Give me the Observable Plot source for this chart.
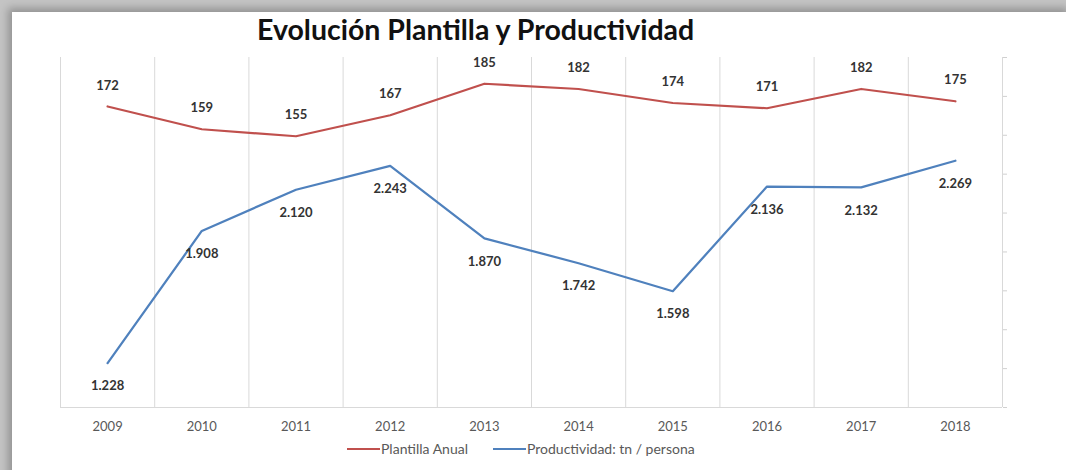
<!DOCTYPE html>
<html>
<head>
<meta charset="utf-8">
<script src="https://cdn.jsdelivr.net/npm/d3@7"></script>
<script src="https://cdn.jsdelivr.net/npm/@observablehq/plot@0.6"></script>
<style>
  html, body { margin: 0; padding: 0; }
  body { width: 1066px; height: 470px; overflow: hidden; background: #c4c4c4; font-family: Lato, "Open Sans", sans-serif; }
  #wrap { position: relative; width: 1066px; height: 470px; }
  #card { position: absolute; left: 12px; top: 12px; width: 1060px; height: 470px; background: #fff; box-shadow: -4px -4px 8px rgba(0,0,0,0.25); }
  #title { position: absolute; left: 257px; top: 12px; white-space: nowrap; font: bold 28.5px Lato, sans-serif; color: #111; }
  #chart { position: absolute; left: 0; top: 48px; }
  #legend { position: absolute; left: 347px; top: 440px; display: flex; align-items: center; font: 14px Lato, sans-serif; color: #595959; }
  .sw { display: inline-block; width: 33px; height: 2px; margin-right: 1px; }
  .item { display: flex; align-items: center; margin-right: 25px; }
</style>
</head>
<body>
<div id="wrap">
  <div id="card"></div>
  <div id="title">Evolución Plantilla y Productividad</div>
  <div id="chart"></div>
  <div id="legend">
    <div class="item"><span class="sw" style="background:#C0504D"></span>Plantilla Anual</div>
    <div class="item"><span class="sw" style="background:#4F81BD"></span>Productividad: tn / persona</div>
  </div>
</div>
<script>
const years = [2009, 2010, 2011, 2012, 2013, 2014, 2015, 2016, 2017, 2018];
const plantilla = [172, 159, 155, 167, 185, 182, 174, 171, 182, 175];
const productividad = [1.228, 1.908, 2.120, 2.243, 1.870, 1.742, 1.598, 2.136, 2.132, 2.269];
const productividadLabels = ["1.228", "1.908", "2.120", "2.243", "1.870", "1.742", "1.598", "2.136", "2.132", "2.269"];
const rightTicks = [1.0, 1.2, 1.4, 1.6, 1.8, 2.0, 2.2, 2.4, 2.6, 2.8];

// secondary axis mapping: productividad [1.0, 2.8] onto plantilla [0, 200]
const pMin = 1.0, pMax = 2.8, yMax = 200;
const toY = v => (v - pMin) / (pMax - pMin) * yMax;

const red = years.map((y, i) => ({year: y, v: plantilla[i], label: String(plantilla[i])}));
const blue = years.map((y, i) => ({year: y, v: toY(productividad[i]), label: productividadLabels[i]}));
const bounds = [years[0] - 0.5, ...years.map(y => y + 0.5)];

const chart = Plot.plot({
  width: 1066,
  height: 400,
  marginLeft: 60,
  marginRight: 64,
  marginTop: 9,
  marginBottom: 41,
  style: {fontFamily: "Lato, sans-serif", background: "transparent", overflow: "visible"},
  x: {type: "linear", domain: [years[0] - 0.5, years[years.length - 1] + 0.5], label: null},
  y: {domain: [0, yMax], axis: null, label: null},
  marks: [
    Plot.ruleX(bounds, {stroke: "#d9d9d9", strokeWidth: 1}),
    Plot.ruleY([0], {stroke: "#d9d9d9", strokeWidth: 1}),
    Plot.axisX({ticks: years, tickFormat: d => String(d), tickSize: 0, tickPadding: 14, fontSize: 13, fill: "#595959", label: null}),
    Plot.axisY({anchor: "right", ticks: rightTicks.map(toY), tickFormat: () => "", tickSize: 4, stroke: "#d0d0d0", label: null}),
    Plot.line(red, {x: "year", y: "v", stroke: "#C0504D", strokeWidth: 2.25}),
    Plot.line(blue, {x: "year", y: "v", stroke: "#4F81BD", strokeWidth: 2.25}),
    Plot.text(red, {x: "year", y: "v", text: "label", dy: -21, fontSize: 13, fontWeight: "bold", fill: "#333"}),
    Plot.text(blue, {x: "year", y: "v", text: "label", dy: 23, fontSize: 13, fontWeight: "bold", fill: "#333"})
  ]
});
document.getElementById("chart").appendChild(chart);
</script>
</body>
</html>
